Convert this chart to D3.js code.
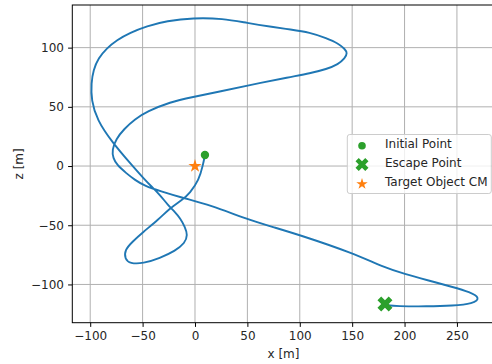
<!DOCTYPE html>
<html>
<head>
<meta charset="utf-8">
<script src="https://cdn.jsdelivr.net/npm/d3@7"></script>
<style>
  html, body { margin: 0; padding: 0; background: #fff; }
  svg { display: block; font-family: "DejaVu Sans", sans-serif; }
</style>
</head>
<body>
<svg id="chart" width="492" height="364"></svg>
<script>
// Trajectory samples (x and z in metres), in order of travel
const pathX = [9.5, 7.6, 3.8, -4.8, -12.4, -23.9, -35.3, -49.6, -60.1, -67.0, -67.0, -62.0, -49.6, -33.4, -19.1, -9.5, -7.0, -9.5, -14.3, -19.1, -25.8, -33.4, -41.0, -47.7, -62.0, -79.2, -93.5, -99.0, -99.0, -97.0, -92.3, -84.3, -74.7, -62.0, -46.1, -27.0, -1.9, 26.7, 49.6, 74.4, 90.6, 109.7, 125.7, 136.7, 143.1, 145.5, 143.1, 136.7, 125.7, 109.7, 90.6, 52.5, 21.0, -1.9, -23.9, -45.8, -57.3, -67.7, -75.4, -79.2, -78.2, -74.4, -65.8, -57.3, -47.7, -33.4, -11.5, 14.3, 49.6, 74.4, 100.2, 150.8, 179.4, 200.4, 221.4, 246.2, 262.4, 272.5, 265.3, 246.2, 221.4, 192.7, 181.3];
const pathZ = [9.3, 0.8, -11.8, -22.8, -28.7, -35.5, -45.6, -55.7, -64.2, -70.9, -78.5, -82.4, -82.4, -77.7, -71.8, -65.0, -58.3, -51.5, -43.9, -38.9, -32.9, -24.5, -17.7, -11.8, 2.5, 20.3, 38.9, 55.7, 70.1, 81.1, 91.0, 99.4, 106.4, 112.6, 118.2, 122.5, 125.2, 124.6, 120.8, 117.4, 115.4, 112.9, 107.9, 103.6, 98.8, 95.4, 91.0, 85.9, 81.9, 78.3, 75.2, 68.4, 62.5, 58.3, 54.1, 46.0, 39.7, 31.3, 22.8, 13.5, 6.8, 0.8, -5.9, -11.8, -16.9, -21.1, -27.0, -32.9, -44.8, -51.5, -58.3, -73.5, -85.3, -91.2, -96.3, -102.2, -106.4, -111.5, -116.2, -118.0, -118.6, -118.4, -117.4];

const initialPoint = [9.5, 9.3];
const escapePoint = [181.3, -116.6];
const targetCM = [0, 0];

const xTicks = [-100, -50, 0, 50, 100, 150, 200, 250];
const zTicks = [-100, -50, 0, 50, 100];
const legendLabels = ["Initial Point", "Escape Point", "Target Object CM"];

const blue = "#1f77b4", green = "#2ca02c", orange = "#ff7f0e";
const fontSize = 12;

const svg = d3.select("#chart");
const plotL = 72.3, plotR = 497.8, plotT = 5, plotB = 322.7;

const x = d3.scaleLinear().domain([-117.1, 289.0]).range([plotL, plotR]);
const y = d3.scaleLinear().domain([-132.3, 136.0]).range([plotB, plotT]);

svg.append("rect").attr("width", 492).attr("height", 364).attr("fill", "#fff");

// grid
const grid = svg.append("g").attr("stroke", "#b0b0b0").attr("stroke-width", 1);
xTicks.forEach(t => grid.append("line")
  .attr("x1", x(t)).attr("x2", x(t)).attr("y1", plotT).attr("y2", plotB));
zTicks.forEach(t => grid.append("line")
  .attr("x1", plotL).attr("x2", plotR).attr("y1", y(t)).attr("y2", y(t)));

// axes
const fmt = d3.format("d");
const xAxis = d3.axisBottom(x).tickValues(xTicks).tickFormat(fmt).tickSizeInner(4.2).tickSizeOuter(0).tickPadding(4.2);
const yAxis = d3.axisLeft(y).tickValues(zTicks).tickFormat(fmt).tickSizeInner(4.2).tickSizeOuter(0).tickPadding(4.2);

const gx = svg.append("g").attr("transform", `translate(0,${plotB})`).call(xAxis);
const gy = svg.append("g").attr("transform", `translate(${plotL},0)`).call(yAxis);
[gx, gy].forEach(g => {
  g.select(".domain").remove();
  g.selectAll("line").attr("stroke", "#000").attr("stroke-width", 1);
  g.selectAll("text").attr("fill", "#262626").style("font-size", fontSize + "px")
    .style("font-family", "DejaVu Sans, sans-serif");
});

// trajectory, drawn as a smoothing B-spline through the samples
const pts = pathX.map((v, i) => [v, pathZ[i]]);
const line = d3.line().x(d => x(d[0])).y(d => y(d[1])).curve(d3.curveBasis);

svg.append("clipPath").attr("id", "plotclip")
  .append("rect").attr("x", plotL).attr("y", plotT).attr("width", plotR - plotL).attr("height", plotB - plotT);

const plot = svg.append("g").attr("clip-path", "url(#plotclip)");
plot.append("path").datum(pts).attr("d", line)
  .attr("fill", "none").attr("stroke", blue).attr("stroke-width", 1.9)
  .attr("stroke-linejoin", "round").attr("stroke-linecap", "round");

// marker shapes
function xMarker(size) {
  const v = [[-1,-2],[0,-1],[1,-2],[2,-1],[1,0],[2,1],[1,2],[0,1],[-1,2],[-2,1],[-1,0],[-2,-1]];
  return "M" + v.map(p => [p[0] / 4 * size, p[1] / 4 * size].join(",")).join("L") + "Z";
}
function starMarker(size) {
  const r = size / 2, ri = r * 0.381966, pts = [];
  for (let i = 0; i < 10; i++) {
    const a = -Math.PI / 2 + i * Math.PI / 5;
    const rr = i % 2 === 0 ? r : ri;
    pts.push([rr * Math.cos(a), rr * Math.sin(a)]);
  }
  return "M" + pts.map(p => p.join(",")).join("L") + "Z";
}

plot.append("circle").attr("cx", x(initialPoint[0])).attr("cy", y(initialPoint[1]))
  .attr("r", 4.2).attr("fill", green);
plot.append("path").attr("d", xMarker(15))
  .attr("transform", `translate(${x(escapePoint[0])},${y(escapePoint[1])})`).attr("fill", green);
plot.append("path").attr("d", starMarker(14))
  .attr("transform", `translate(${x(targetCM[0])},${y(targetCM[1])})`).attr("fill", orange);

// spines
svg.append("rect").attr("x", plotL).attr("y", plotT).attr("width", plotR - plotL).attr("height", plotB - plotT)
  .attr("fill", "none").attr("stroke", "#000").attr("stroke-width", 1);

// axis titles
svg.append("text").attr("x", 283.5).attr("y", 358)
  .attr("text-anchor", "middle").attr("fill", "#262626").style("font-size", fontSize + "px").text("x [m]");
svg.append("text").attr("transform", `translate(23,${(plotT + plotB) / 2}) rotate(-90)`)
  .attr("text-anchor", "middle").attr("fill", "#262626").style("font-size", fontSize + "px").text("z [m]");

// legend
const lg = svg.append("g");
lg.append("rect").attr("x", 347.3).attr("y", 134.5).attr("width", 144).attr("height", 59)
  .attr("rx", 2.5).attr("fill", "#fff").attr("fill-opacity", 0.8)
  .attr("stroke", "#cccccc").attr("stroke-width", 1);
const rowY = [143.8, 162.5, 181.5];
lg.append("circle").attr("cx", 362).attr("cy", rowY[0] + 2).attr("r", 3.8).attr("fill", green);
lg.append("path").attr("d", xMarker(13)).attr("transform", `translate(362,${rowY[1] + 2})`).attr("fill", green);
lg.append("path").attr("d", starMarker(12)).attr("transform", `translate(362,${rowY[2] + 2.5})`).attr("fill", orange);
legendLabels.forEach((t, i) => {
  lg.append("text").attr("x", 385).attr("y", rowY[i]).attr("dy", "0.36em")
    .attr("fill", "#262626").style("font-size", fontSize + "px").text(t);
});
</script>
</body>
</html>
